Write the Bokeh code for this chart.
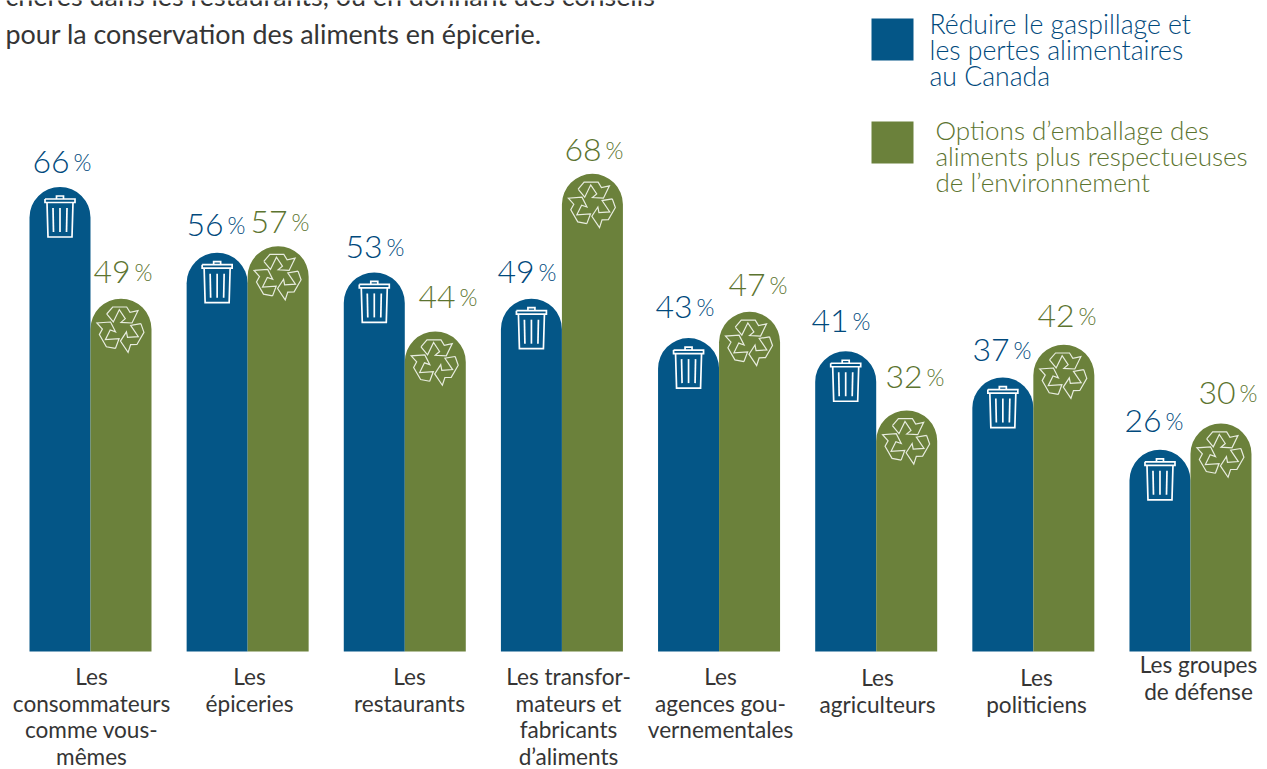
import numpy as np
from bokeh.core.properties import value
from bokeh.embed import file_html
from bokeh.models import ColumnDataSource, Range1d
from bokeh.plotting import figure
from bokeh.resources import INLINE

# Survey results, percent
categories = [
    ["Les", "consommateurs", "comme vous-", "mêmes"],
    ["Les", "épiceries"],
    ["Les", "restaurants"],
    ["Les transfor-", "mateurs et", "fabricants", "d’aliments"],
    ["Les", "agences gou-", "vernementales"],
    ["Les", "agriculteurs"],
    ["Les", "politiciens"],
    ["Les groupes", "de défense"],
]
waste_values = [66, 56, 53, 49, 43, 41, 37, 26]
packaging_values = [49, 57, 44, 68, 47, 32, 42, 30]
legend_waste = ["Réduire le gaspillage et", "les pertes alimentaires", "au Canada"]
legend_packaging = ["Options d’emballage des", "aliments plus respectueuses", "de l’environnement"]
intro_lines = ["chères dans les restaurants, ou en donnant des conseils",
               "pour la conservation des aliments en épicerie."]

BLUE, GREEN = "#045687", "#6b813b"
BLUE_TEXT, GREEN_TEXT = "#00497c", "#5c7430"
DARK = "#353535"
FONT = value("Lato")
LIGHT_FONT = value("Lato Light, Lato")

W, H = 1267, 769
GROUP_PX = 157.14       # distance between neighbouring groups
FIRST_PX = 90.0         # centre of the first group
BASE_PX = 651.0         # bottom of the bars
UNIT_PX = 6.57          # height of one percentage point
BASE_VALUE = -4.7       # value sitting on the bottom of the bars
BAR_PX = 61.0


def data_x(px):
    return (np.asarray(px, dtype=float) - FIRST_PX) / GROUP_PX


def data_y(py):
    return BASE_VALUE + (BASE_PX - np.asarray(py, dtype=float)) / UNIT_PX


p = figure(width=W, height=H, output_backend="svg", toolbar_location=None,
           x_range=Range1d(float(data_x(0)), float(data_x(W))),
           y_range=Range1d(float(data_y(H)), float(data_y(0))),
           min_border=0, outline_line_color=None, background_fill_color="white")
p.axis.visible = False
p.grid.visible = False

# Bars with rounded heads
idx = np.arange(len(categories))
half = BAR_PX / GROUP_PX / 2
for offs, vals, col in ((-half, waste_values, BLUE), (half, packaging_values, GREEN)):
    p.vbar(x=idx + offs, top=vals, bottom=BASE_VALUE, width=BAR_PX / GROUP_PX, fill_color=col,
           line_color=None, border_radius=(31, 31, 0, 0))

# Trash can pictogram, px relative to the bar's centre and head
trash_parts = [
    [(-3.5, 12), (-3.5, 9), (3.5, 9), (3.5, 12)],
    [(-15, 12), (15, 12), (15, 15.5), (-15, 15.5), (-15, 12)],
    [(-13, 15.5), (-12, 50), (12, 50), (13, 15.5)],
    [(-7, 21), (-6.5, 45)],
    [(0, 21), (0, 45)],
    [(7, 21), (6.5, 45)],
]
xs, ys = [], []
for i, v in enumerate(waste_values):
    for part in trash_parts:
        xs.append([i - half + dx / GROUP_PX for dx, _ in part])
        ys.append([v - dy / UNIT_PX for _, dy in part])
p.multi_line(xs, ys, line_color="white", line_width=1.7, line_join="miter")

# Recycling pictogram: one chasing arrow, turned three times around its centre
arrow = np.array([(-14.3, -14.7), (-8.3, -21.7), (5.7, -21.7), (9, -16.3), (17, -18), (11, -5.7),
                  (0, -6.3), (4.3, -10), (-1.7, -19), (-7.7, -6.7), (-14.3, -14.7)])
xs, ys = [], []
for i, v in enumerate(packaging_values):
    for deg in (0, 120, 240):
        t = np.radians(deg)
        rx = arrow[:, 0] * np.cos(t) - arrow[:, 1] * np.sin(t)
        ry = arrow[:, 0] * np.sin(t) + arrow[:, 1] * np.cos(t)
        xs.append(list(i + half + rx / GROUP_PX))
        ys.append(list(v - (30 + ry) / UNIT_PX))
p.multi_line(xs, ys, line_color="#e8ecdf", line_width=1.2, line_join="miter")

# Value labels: number and a smaller percent sign either side of a split point
waste_split_px = [69, 223, 382, 534, 692, 848, 1009, 1161]
waste_label_py = [161, 224, 246, 271, 306, 320, 349, 420]
pack_split_px = [130, 287, 455, 601, 765, 922, 1074, 1235]
pack_label_py = [271, 221, 296, 149, 284, 376, 315, 392]


def value_labels(vals, split, py, centre_offset, colour):
    centre = idx + centre_offset
    dx = np.array(split) - (FIRST_PX + centre * GROUP_PX)
    dy = np.array(py) - (BASE_PX - (np.array(vals) - BASE_VALUE) * UNIT_PX)
    src = ColumnDataSource(dict(x=centre, y=vals, dx=dx, dy=dy, dx2=dx + 4,
                                num=[str(v) for v in vals], pct=["%"] * len(vals)))
    p.text("x", "y", text="num", x_offset="dx", y_offset="dy", source=src, text_font=LIGHT_FONT,
           text_font_size="32px", text_color=colour, text_align="right", text_baseline="middle")
    p.text("x", "y", text="pct", x_offset="dx2", y_offset="dy", source=src, text_font=LIGHT_FONT,
           text_font_size="23px", text_color=colour, text_align="left", text_baseline="middle")


value_labels(waste_values, waste_split_px, waste_label_py, -half, BLUE_TEXT)
value_labels(packaging_values, pack_split_px, pack_label_py, half, GREEN_TEXT)

# Category names under each group
name_px = [91, 249, 409, 568, 720, 877, 1036, 1198]
name_first_py = [676, 676, 676, 676, 676, 677, 677, 664]
tx, ty, tt = [], [], []
for px, py, lines in zip(name_px, name_first_py, categories):
    for n, line in enumerate(lines):
        tx.append(float(data_x(px)))
        ty.append(float(data_y(py + n * 26.7)))
        tt.append(line)
p.text(tx, ty, text=tt, text_font=FONT, text_font_size="22.6px", text_color=DARK,
       text_align="center", text_baseline="middle")

# Legend swatches and captions
for top_py, col in ((18, BLUE), (121, GREEN)):
    p.quad(left=[float(data_x(871))], right=[float(data_x(913))],
           top=[float(data_y(top_py))], bottom=[float(data_y(top_py + 42))],
           fill_color=col, line_color=None)
for left_px, first_py, lines, col, size in ((929, 23, legend_waste, BLUE_TEXT, "26.6px"),
                                            (935, 129, legend_packaging, GREEN_TEXT, "26px")):
    p.text([float(data_x(left_px))] * 3, [float(data_y(first_py + n * 26.3)) for n in range(3)],
           text=lines, text_font=LIGHT_FONT, text_font_size=size, text_color=col,
           text_align="left", text_baseline="middle")

# Running text above the chart
p.text([float(data_x(5))] * 2, [float(data_y(-5)), float(data_y(33))], text=intro_lines,
       text_font=FONT, text_font_size="26.9px", text_color=DARK, text_align="left",
       text_baseline="middle")

open("out.html", "w").write(file_html(p, INLINE))
